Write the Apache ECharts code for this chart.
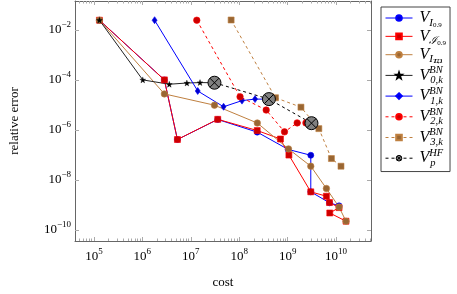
<!DOCTYPE html>
<html><head><meta charset="utf-8">
<script src="https://cdn.jsdelivr.net/npm/echarts@6/dist/echarts.min.js"></script>
<style>html,body{margin:0;padding:0;background:#fff}#c{width:457px;height:294px}</style>
</head><body><div id="c"></div>
<script>
// ---- axis ticks ----
const xMajorTicks = [1e5, 1e6, 1e7, 1e8, 1e9, 1e10];
const yMajorTicks = [1e-10, 1e-8, 1e-6, 1e-4, 1e-2];
const xMinorTicks = [];
[4,5,6,7,8,9,10].forEach(function(n){ for (let k=2;k<=9;k++){ xMinorTicks.push(k*Math.pow(10,n)); } });

// ---- data ----
const vI_cost   = [1.3e5, 2.85e6, 5.3e6, 3.6e7, 2.35e8, 1.02e9, 3.0e9, 3.0e9, 7.3e9, 1.15e10];
const vI_err    = [2.45e-2, 1.0e-4, 4.1e-7, 2.6e-6, 8.1e-7, 1.65e-7, 9.6e-8, 3.3e-9, 1.2e-9, 9.1e-10];

const vCI_cost  = [1.3e5, 2.85e6, 5.3e6, 3.6e7, 2.35e8, 7.1e8, 1.06e9, 3.0e9, 6.3e9, 7.3e9, 1.15e10, 7.4e9, 1.6e10];
const vCI_err   = [2.45e-2, 1.0e-4, 4.1e-7, 2.64e-6, 9.4e-7, 4.3e-7, 9.8e-8, 3.3e-9, 2.2e-9, 1.23e-9, 7.7e-10, 4.7e-10, 2.2e-10];

const vTD_cost  = [1.3e5, 2.85e6, 3.08e7, 2.36e8, 1.04e9, 3.0e9, 6.3e9, 1.15e10, 1.6e10];
const vTD_err   = [2.45e-2, 2.75e-5, 9.7e-6, 1.88e-6, 1.73e-7, 3.5e-8, 4.5e-9, 8.1e-10, 2.2e-10];

const v0_cost   = [1.3e5, 1.02e6, 3.6e6, 8.3e6, 1.55e7, 3.08e7];
const v0_err    = [2.45e-2, 1.0e-4, 6.7e-5, 7.5e-5, 7.8e-5, 7.7e-5];

const v1_cost   = [1.79e6, 1.39e7, 4.75e7, 1.14e8, 2.12e8, 4.0e8];
const v1_err    = [2.45e-2, 3.6e-5, 8.4e-6, 1.48e-5, 1.7e-5, 1.7e-5];

const v2_cost   = [1.33e7, 1.04e8, 3.6e8, 8.6e8, 1.57e9, 2.38e9];
const v2_err    = [2.45e-2, 2.1e-5, 6.2e-6, 8.3e-7, 1.9e-6, 1.9e-6];

const v3_cost   = [6.8e7, 5.6e8, 1.88e9, 4.4e9, 8.0e9, 1.26e10];
const v3_err    = [2.5e-2, 1.93e-5, 8.1e-6, 1.12e-6, 7.1e-8, 3.5e-8];

const vHF_cost  = [3.08e7, 4.1e8, 3.1e9];
const vHF_err   = [7.7e-5, 1.7e-5, 1.85e-6];

const zip = (a,b) => a.map((v,i) => [v, b[i]]);

const STAR = 'path://M0,-10 L2.35,-3.24 L9.51,-3.09 L3.8,1.24 L5.88,8.09 L0,4 L-5.88,8.09 L-3.8,1.24 L-9.51,-3.09 L-2.35,-3.24 Z';
const OTIMES = 'path://M-10,0 A10,10 0 1,1 10,0 A10,10 0 1,1 -10,0 Z M-7.07,-7.07 L7.07,7.07 M7.07,-7.07 L-7.07,7.07';

const SERIF = '"Liberation Serif","DejaVu Serif",serif';
const legendText = {
  VI:  '{v|V}{s|I}{ss|0.9}',
  VCI: '{v|V}{s|ℐ}{ss|0.9}',
  VTD: '{v|V}{s|I}{tdsup|TD}{tdsub|L,1}',
  V0:  '{v|V}{supw|BN}{sub|0,k}',
  V1:  '{v|V}{supw|BN}{sub|1,k}',
  V2:  '{v|V}{supw|BN}{sub|2,k}',
  V3:  '{v|V}{supw|BN}{sub|3,k}',
  VP:  '{v|V}{supw|HF}{sub|p}'
};

function mk(name, cost, err, o) {
  return Object.assign({
    name: name, type: 'line', data: zip(cost, err),
    xAxisIndex: 0, yAxisIndex: 0, animation: false, clip: true
  }, o);
}

const blue='#0000ff', blueF='#0000cc', red='#ff0000', redF='#cc0000', brown='#bf8040', brownF='#996633';

const series = [
  mk('VI', vI_cost, vI_err, {symbol:'circle', symbolSize:6, lineStyle:{color:blue,width:1}, itemStyle:{color:blueF,borderColor:blue,borderWidth:0.6}}),
  mk('VCI', vCI_cost, vCI_err, {symbol:'rect', symbolSize:6, lineStyle:{color:red,width:1}, itemStyle:{color:redF,borderColor:red,borderWidth:0.6}}),
  mk('VTD', vTD_cost, vTD_err, {symbol:'circle', symbolSize:6.5, lineStyle:{color:brown,width:1}, itemStyle:{color:brownF,borderColor:brown,borderWidth:0.6}}),
  mk('V0', v0_cost, v0_err, {symbol:STAR, symbolSize:6, lineStyle:{color:'#222',width:1}, itemStyle:{color:'#000',borderColor:'#000',borderWidth:0.3}}),
  mk('V1', v1_cost, v1_err, {symbol:'diamond', symbolSize:[5,7], lineStyle:{color:blue,width:1}, itemStyle:{color:blueF,borderColor:blue,borderWidth:0.6}}),
  mk('V2', v2_cost, v2_err, {symbol:'circle', symbolSize:6.5, lineStyle:{color:red,width:1,type:[3,3]}, itemStyle:{color:redF,borderColor:red,borderWidth:0.6}}),
  mk('V3', v3_cost, v3_err, {symbol:'rect', symbolSize:6, lineStyle:{color:brown,width:1,type:[3,3]}, itemStyle:{color:brownF,borderColor:brown,borderWidth:0.6}}),
  mk('VP', vHF_cost, vHF_err, {symbol:OTIMES, symbolSize:13, lineStyle:{color:'#000',width:1,type:[3,3]}, itemStyle:{color:'#808080',borderColor:'#000',borderWidth:1}})
];

const xMin = 4.07e4, xMax = 5.25e10, yMin = 3.55e-11, yMax = 0.144;
const axisCol = '#666', tickCol = '#aaa';

function expLabel(v) {
  const e = Math.round(Math.log10(v));
  return '{b|10}{e|' + (e < 0 ? '\u2212' + (-e) : e) + '}';
}
const labelRich = {
  b: {fontFamily: SERIF, fontSize: 13, lineHeight: 20, color: '#000', verticalAlign: 'middle'},
  e: {fontFamily: SERIF, fontSize: 9, lineHeight: 10, color: '#000', verticalAlign: 'top'}
};

function xAx(pos, major, showLabel) {
  return {
    type: 'log', logBase: 10, min: xMin, max: xMax, position: pos,
    axisLine: {show: major, lineStyle: {color: axisCol, width: 1}},
    axisTick: {show: true, inside: true, length: major ? 4 : 2.5, lineStyle: {color: tickCol, width: 1},
               customValues: major ? xMajorTicks : xMinorTicks},
    axisLabel: {show: showLabel, customValues: xMajorTicks, formatter: expLabel, rich: labelRich, margin: 6},
    splitLine: {show: false}, minorTick: {show: false}, minorSplitLine: {show: false},
    name: showLabel ? 'cost' : '', nameLocation: 'middle', nameGap: 35,
    nameTextStyle: {fontFamily: SERIF, fontSize: 13, color: '#000'}
  };
}
function yAx(pos, showLabel) {
  return {
    type: 'log', logBase: 10, min: yMin, max: yMax, position: pos,
    axisLine: {show: true, lineStyle: {color: axisCol, width: 1}},
    axisTick: {show: true, inside: true, length: 4, lineStyle: {color: tickCol, width: 1}, customValues: yMajorTicks},
    axisLabel: {show: showLabel, customValues: yMajorTicks, formatter: expLabel, rich: labelRich, margin: 4},
    splitLine: {show: false},
    name: showLabel ? 'relative error' : '', nameLocation: 'middle', nameGap: 54, nameRotate: 90,
    nameTextStyle: {fontFamily: SERIF, fontSize: 13, color: '#000'}
  };
}

const legendData = ['VI','VCI','VTD','V0','V1','V2','V3','VP'].map(function(n){
  if (n === 'VP') return {name: n, itemStyle: {color: '#808080', borderColor: '#000', borderWidth: 1}};
  return {name: n};
});

const chart = echarts.init(document.getElementById('c'), null, {renderer: 'canvas'});
chart.setOption({
  animation: false,
  backgroundColor: '#fff',
  grid: {left: 70, top: 1, right: 86, bottom: 44, containLabel: false},
  xAxis: [xAx('bottom', true, true), xAx('bottom', false, false), xAx('top', true, false), xAx('top', false, false)],
  yAxis: [yAx('left', true), yAx('right', false)],
  legend: {
    orient: 'vertical', left: 381, top: 7, width: 75,
    padding: [3, 4, 3, 4], itemGap: 0, itemWidth: 27, itemHeight: 7,
    borderColor: '#444', borderWidth: 1, backgroundColor: '#fff',
    lineStyle: {width: 1},
    data: legendData,
    formatter: function(n){ return legendText[n]; },
    textStyle: {
      padding: [0,0,0,2],
      rich: {
        v: {fontFamily: SERIF, fontStyle: 'italic', fontSize: 16, lineHeight: 20.7, color: '#000', verticalAlign: 'middle'},
        s: {fontFamily: SERIF, fontStyle: 'italic', fontSize: 11, lineHeight: 10, color: '#000', verticalAlign: 'bottom'},
        ss: {fontFamily: SERIF, fontSize: 7, lineHeight: 4, color: '#000', verticalAlign: 'bottom'},
        tdsup: {fontFamily: SERIF, fontStyle: 'italic', fontSize: 7, lineHeight: 17, width: 1, color: '#000', verticalAlign: 'bottom'},
        tdsub: {fontFamily: SERIF, fontStyle: 'italic', fontSize: 7, lineHeight: 3, color: '#000', verticalAlign: 'bottom'},
        supw: {fontFamily: SERIF, fontStyle: 'italic', fontSize: 10.5, lineHeight: 10, width: 1, color: '#000', verticalAlign: 'top'},
        sub: {fontFamily: SERIF, fontStyle: 'italic', fontSize: 10.5, lineHeight: 8, color: '#000', verticalAlign: 'bottom'}
      }
    }
  },
  series: series
});
</script></body></html>
